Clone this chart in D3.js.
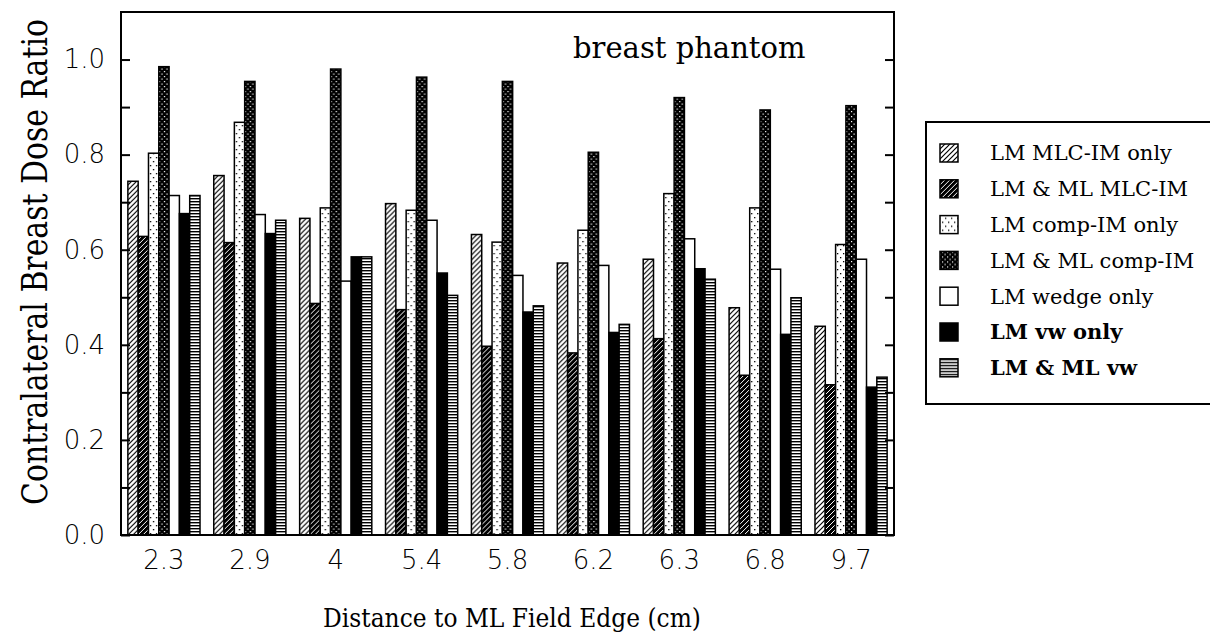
<!DOCTYPE html>
<html lang="en">

<head>
    <meta charset="UTF-8">
    <title>Contralateral Breast Dose Ratio</title>
    <style>
        body {
            margin: 0;
            background: #fff;
        }

        svg {
            display: block;
        }
    </style>
</head>

<body>
    <div id="chart"></div>
    <script src="https://d3js.org/d3.v7.min.js"></script>
    <script>
        const NS = 'http://www.w3.org/2000/svg';

        // categories (distance to ML field edge, cm)
        const categories = ['2.3', '2.9', '4', '5.4', '5.8', '6.2', '6.3', '6.8', '9.7'];
        const seriesNames = ['LM MLC-IM only', 'LM & ML MLC-IM', 'LM comp-IM only', 'LM & ML comp-IM',
            'LM wedge only', 'LM vw only', 'LM & ML vw'];

        // values
        const mlcOnly = [0.744, 0.756, 0.666, 0.697, 0.632, 0.572, 0.580, 0.478, 0.439];
        const mlcBoth = [0.628, 0.615, 0.487, 0.474, 0.397, 0.383, 0.413, 0.336, 0.316];
        const compOnly = [0.803, 0.868, 0.688, 0.683, 0.616, 0.641, 0.718, 0.688, 0.611];
        const compBoth = [0.985, 0.954, 0.980, 0.963, 0.954, 0.805, 0.920, 0.894, 0.903];
        const wedgeOnly = [0.714, 0.674, 0.534, 0.662, 0.546, 0.567, 0.623, 0.559, 0.580];
        const vwOnly = [0.676, 0.634, 0.585, 0.551, 0.469, 0.426, 0.560, 0.422, 0.311];
        const vwBoth = [0.714, 0.662, 0.585, 0.504, 0.482, 0.443, 0.538, 0.499, 0.332];

        const yTicks = [0, 0.1, 0.2, 0.3, 0.4, 0.5, 0.6, 0.7, 0.8, 0.9, 1.0];

        const allSeries = [mlcOnly, mlcBoth, compOnly, compBoth, wedgeOnly, vwOnly, vwBoth];
        const fills = ['url(#hatchLight)', 'url(#hatchDark)', 'url(#dotsLight)', 'url(#dotsDark)',
            '#fff', '#000', 'url(#stripes)'];
        const boldLegend = [false, false, false, false, false, true, true];

        const width = 1210;
        const height = 639;
        const plot = { left: 121, right: 894, top: 12, bottom: 535 };

        const svg = d3.select('#chart')
            .append('svg')
            .attr('xmlns', NS)
            .attr('width', width)
            .attr('height', height);

        // patterns
        const defs = svg.append('defs');
        {
            const p = defs.append('pattern').attr('id', 'hatchLight')
                .attr('patternUnits', 'userSpaceOnUse').attr('width', 5).attr('height', 5);
            p.append('rect').attr('width', 5).attr('height', 5).attr('fill', '#fff');
            p.append('path').attr('d', 'M-1,1 l2,-2 M0,5 l5,-5 M4,6 l2,-2')
                .attr('stroke', '#000').attr('stroke-width', 1.2);
        }
        {
            const p = defs.append('pattern').attr('id', 'hatchDark')
                .attr('patternUnits', 'userSpaceOnUse').attr('width', 5).attr('height', 5);
            p.append('rect').attr('width', 5).attr('height', 5).attr('fill', '#000');
            p.append('path').attr('d', 'M-1,1 l2,-2 M0,5 l5,-5 M4,6 l2,-2')
                .attr('stroke', '#fff').attr('stroke-width', 1);
        }
        {
            const p = defs.append('pattern').attr('id', 'dotsLight')
                .attr('patternUnits', 'userSpaceOnUse').attr('width', 6).attr('height', 8);
            p.append('rect').attr('width', 6).attr('height', 8).attr('fill', '#fff');
            p.append('rect').attr('x', 1).attr('y', 1).attr('width', 1.3).attr('height', 1.3).attr('fill', '#000');
            p.append('rect').attr('x', 4).attr('y', 5).attr('width', 1.3).attr('height', 1.3).attr('fill', '#000');
        }
        {
            const p = defs.append('pattern').attr('id', 'dotsDark')
                .attr('patternUnits', 'userSpaceOnUse').attr('width', 5).attr('height', 5);
            p.append('rect').attr('width', 5).attr('height', 5).attr('fill', '#000');
            p.append('rect').attr('x', 1).attr('y', 1).attr('width', 1.2).attr('height', 1.2).attr('fill', '#fff');
            p.append('rect').attr('x', 3.5).attr('y', 3.5).attr('width', 1.2).attr('height', 1.2).attr('fill', '#fff');
        }
        {
            const p = defs.append('pattern').attr('id', 'stripes')
                .attr('patternUnits', 'userSpaceOnUse').attr('width', 4).attr('height', 3);
            p.append('rect').attr('width', 4).attr('height', 3).attr('fill', '#fff');
            p.append('rect').attr('y', 0).attr('width', 4).attr('height', 1.4).attr('fill', '#000');
        }

        // scales
        const x0 = d3.scaleBand()
            .domain(categories)
            .range([plot.left, plot.right])
            .paddingInner(0.16)
            .paddingOuter(0.08);

        const x1 = d3.scaleBand()
            .domain(d3.range(seriesNames.length))
            .range([0, x0.bandwidth()]);

        const y = d3.scaleLinear()
            .domain([0, 1.1])
            .range([plot.bottom, plot.top]);

        // bars
        const groups = svg.append('g').selectAll('g').data(categories);
        const g = groups.enter().append('g')
            .attr('transform', d => `translate(${x0(d)},0)`);

        g.selectAll('rect')
            .data((d, i) => allSeries.map((s, k) => ({ k: k, v: s[i] })))
            .enter().append('rect')
            .attr('x', d => x1(d.k))
            .attr('y', d => y(d.v))
            .attr('width', x1.bandwidth())
            .attr('height', d => y(0) - y(d.v))
            .attr('fill', d => fills[d.k])
            .attr('stroke', '#000')
            .attr('stroke-width', 1.5);

        // axes
        const tickFont = '"DejaVu Sans ExtraLight", "DejaVu Sans", sans-serif';

        const yAxis = svg.append('g')
            .attr('transform', `translate(${plot.left},0)`)
            .call(d3.axisLeft(y)
                .tickValues(yTicks)
                .tickSizeInner(-9)
                .tickSizeOuter(0)
                .tickPadding(16)
                .tickFormat((d, i) => i % 2 === 0 ? d3.format('.1f')(d) : ''));
        yAxis.select('.domain').remove();
        yAxis.selectAll('line').attr('stroke', '#000').attr('stroke-width', 2);
        yAxis.selectAll('text')
            .attr('font-family', tickFont)
            .attr('font-weight', 200)
            .attr('font-size', 26)
            .attr('fill', '#000');

        const yAxisRight = svg.append('g')
            .attr('transform', `translate(${plot.right},0)`)
            .call(d3.axisRight(y)
                .tickValues(yTicks)
                .tickSizeInner(-9)
                .tickSizeOuter(0)
                .tickFormat(''));
        yAxisRight.select('.domain').remove();
        yAxisRight.selectAll('line').attr('stroke', '#000').attr('stroke-width', 2);

        const xAxis = svg.append('g')
            .attr('transform', `translate(0,${plot.bottom})`)
            .call(d3.axisBottom(x0).tickSize(0).tickPadding(16));
        xAxis.select('.domain').remove();
        xAxis.selectAll('text')
            .attr('font-family', tickFont)
            .attr('font-weight', 200)
            .attr('font-size', 26)
            .attr('fill', '#000');

        // frame
        svg.append('rect')
            .attr('x', plot.left)
            .attr('y', plot.top)
            .attr('width', plot.right - plot.left)
            .attr('height', plot.bottom - plot.top)
            .attr('fill', 'none')
            .attr('stroke', '#000')
            .attr('stroke-width', 2);

        // titles
        const serif = '"DejaVu Serif", "Liberation Serif", serif';

        // squeeze a text along its length to a target width
        function fitText(sel, target) {
            const len = sel.node().getComputedTextLength();
            return Math.min(1, target / len);
        }

        const yTitle = svg.append('text')
            .attr('text-anchor', 'middle')
            .attr('font-family', serif)
            .attr('font-size', 35)
            .text('Contralateral Breast Dose Ratio');
        yTitle.attr('transform', `translate(47,262) rotate(-90) scale(${fitText(yTitle, 486)},1)`);

        const xTitle = svg.append('text')
            .attr('text-anchor', 'middle')
            .attr('font-family', serif)
            .attr('font-size', 26)
            .text('Distance to ML Field Edge (cm)');
        xTitle.attr('transform', `translate(512,627) scale(${fitText(xTitle, 378)},1)`);

        const note = svg.append('text')
            .attr('font-family', serif)
            .attr('font-size', 29)
            .text('breast phantom');
        note.attr('transform', `translate(573,58) scale(${fitText(note, 239)},1)`);

        // legend
        const legend = svg.append('g').attr('transform', 'translate(926,122)');
        legend.append('rect')
            .attr('width', 300)
            .attr('height', 282)
            .attr('fill', '#fff')
            .attr('stroke', '#000')
            .attr('stroke-width', 2);

        const item = legend.selectAll('.item').data(seriesNames);
        const itemG = item.enter().append('g').attr('class', 'item')
            .attr('transform', (d, i) => `translate(0,${31 + i * 35.8})`);
        itemG.append('rect')
            .attr('x', 14)
            .attr('y', -9)
            .attr('width', 18)
            .attr('height', 18)
            .attr('fill', (d, i) => fills[i])
            .attr('stroke', '#000')
            .attr('stroke-width', 1.5);
        itemG.append('text')
            .attr('x', 64)
            .attr('dy', '0.35em')
            .attr('font-family', serif)
            .attr('font-size', 21)
            .attr('font-weight', (d, i) => boldLegend[i] ? 'bold' : 'normal')
            .text(d => d);
    </script>
</body>

</html>
